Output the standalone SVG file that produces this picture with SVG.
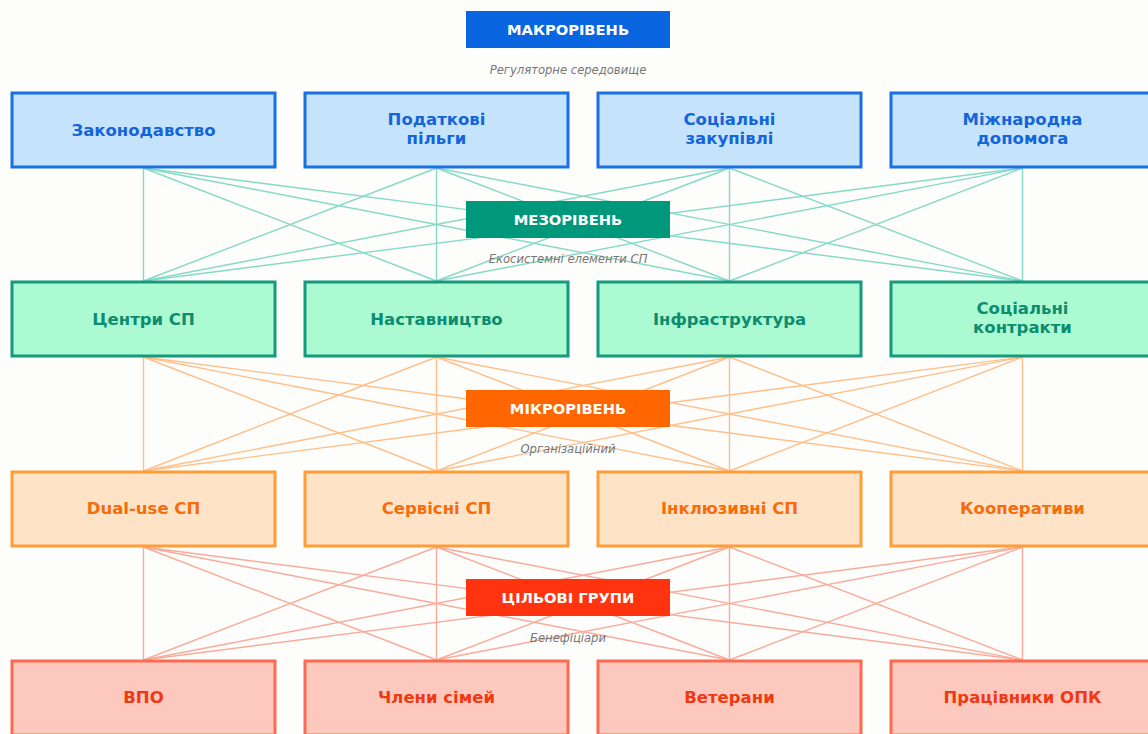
<svg xmlns="http://www.w3.org/2000/svg" width="1148" height="734" viewBox="0 0 1148 734">
<style>
text{font-family:"DejaVu Sans","Liberation Sans",sans-serif;text-anchor:middle}
.n{font-weight:bold;font-size:16.5px}
.b{font-weight:bold;font-size:14.7px;fill:#fff}
.s{font-style:italic;font-size:11.6px;fill:#777}
.c1 line{stroke:#86d9c6;stroke-width:1.4}
.c2 line{stroke:#ffbf8a;stroke-width:1.4}
.c3 line{stroke:#f9ab9b;stroke-width:1.4}
.r1 rect{fill:#c6e3fc;stroke:#1a6fe3;stroke-width:3}
.r1 text{fill:#1465da}
.r2 rect{fill:#abfad2;stroke:#16997c;stroke-width:3}
.r2 text{fill:#0d8c6f}
.r3 rect{fill:#ffe3c6;stroke:#ff9d38;stroke-width:3}
.r3 text{fill:#f56c0e}
.r4 rect{fill:#fdc9bf;stroke:#fa6b52;stroke-width:3}
.r4 text{fill:#f03812}
</style>
<rect width="1148" height="734" fill="#fdfdfb"/>
<g id="connectors">
<g class="c1">
<line x1="143.5" y1="168" x2="143.5" y2="281"/><line x1="143.5" y1="168" x2="436.5" y2="281"/><line x1="143.5" y1="168" x2="729.5" y2="281"/><line x1="143.5" y1="168" x2="1022.5" y2="281"/>
<line x1="436.5" y1="168" x2="143.5" y2="281"/><line x1="436.5" y1="168" x2="436.5" y2="281"/><line x1="436.5" y1="168" x2="729.5" y2="281"/><line x1="436.5" y1="168" x2="1022.5" y2="281"/>
<line x1="729.5" y1="168" x2="143.5" y2="281"/><line x1="729.5" y1="168" x2="436.5" y2="281"/><line x1="729.5" y1="168" x2="729.5" y2="281"/><line x1="729.5" y1="168" x2="1022.5" y2="281"/>
<line x1="1022.5" y1="168" x2="143.5" y2="281"/><line x1="1022.5" y1="168" x2="436.5" y2="281"/><line x1="1022.5" y1="168" x2="729.5" y2="281"/><line x1="1022.5" y1="168" x2="1022.5" y2="281"/>
</g>
<g class="c2">
<line x1="143.5" y1="357" x2="143.5" y2="471"/><line x1="143.5" y1="357" x2="436.5" y2="471"/><line x1="143.5" y1="357" x2="729.5" y2="471"/><line x1="143.5" y1="357" x2="1022.5" y2="471"/>
<line x1="436.5" y1="357" x2="143.5" y2="471"/><line x1="436.5" y1="357" x2="436.5" y2="471"/><line x1="436.5" y1="357" x2="729.5" y2="471"/><line x1="436.5" y1="357" x2="1022.5" y2="471"/>
<line x1="729.5" y1="357" x2="143.5" y2="471"/><line x1="729.5" y1="357" x2="436.5" y2="471"/><line x1="729.5" y1="357" x2="729.5" y2="471"/><line x1="729.5" y1="357" x2="1022.5" y2="471"/>
<line x1="1022.5" y1="357" x2="143.5" y2="471"/><line x1="1022.5" y1="357" x2="436.5" y2="471"/><line x1="1022.5" y1="357" x2="729.5" y2="471"/><line x1="1022.5" y1="357" x2="1022.5" y2="471"/>
</g>
<g class="c3">
<line x1="143.5" y1="547" x2="143.5" y2="660"/><line x1="143.5" y1="547" x2="436.5" y2="660"/><line x1="143.5" y1="547" x2="729.5" y2="660"/><line x1="143.5" y1="547" x2="1022.5" y2="660"/>
<line x1="436.5" y1="547" x2="143.5" y2="660"/><line x1="436.5" y1="547" x2="436.5" y2="660"/><line x1="436.5" y1="547" x2="729.5" y2="660"/><line x1="436.5" y1="547" x2="1022.5" y2="660"/>
<line x1="729.5" y1="547" x2="143.5" y2="660"/><line x1="729.5" y1="547" x2="436.5" y2="660"/><line x1="729.5" y1="547" x2="729.5" y2="660"/><line x1="729.5" y1="547" x2="1022.5" y2="660"/>
<line x1="1022.5" y1="547" x2="143.5" y2="660"/><line x1="1022.5" y1="547" x2="436.5" y2="660"/><line x1="1022.5" y1="547" x2="729.5" y2="660"/><line x1="1022.5" y1="547" x2="1022.5" y2="660"/>
</g>
</g>
<g id="level-macro"><rect x="466" y="11" width="204" height="37" fill="#0a66e0"/><text class="b" x="568" y="34.5">МАКРОРІВЕНЬ</text><text class="s" x="568" y="74">Регуляторне середовище</text></g>
<g id="level-meso"><rect x="466" y="201" width="204" height="37" fill="#00987a"/><text class="b" x="568" y="224.5">МЕЗОРІВЕНЬ</text><text class="s" x="568" y="263">Екосистемні елементи СП</text></g>
<g id="level-micro"><rect x="466" y="390" width="204" height="37" fill="#ff6600"/><text class="b" x="568" y="413.5">МІКРОРІВЕНЬ</text><text class="s" x="568" y="453">Організаційний</text></g>
<g id="level-target"><rect x="466" y="579" width="204" height="37" fill="#ff330e"/><text class="b" x="568" y="602.5">ЦІЛЬОВІ ГРУПИ</text><text class="s" x="568" y="642">Бенефіціари</text></g>
<g class="r1">
<g id="n-law"><rect x="12" y="93" width="263" height="74"/><text class="n" x="143.5" y="135.5">Законодавство</text></g>
<g id="n-tax"><rect x="305" y="93" width="263" height="74"/><text class="n" x="436.5" y="125">Податкові</text><text class="n" x="436.5" y="144">пільги</text></g>
<g id="n-proc"><rect x="598" y="93" width="263" height="74"/><text class="n" x="729.5" y="125">Соціальні</text><text class="n" x="729.5" y="144">закупівлі</text></g>
<g id="n-intl"><rect x="891" y="93" width="263" height="74"/><text class="n" x="1022.5" y="125">Міжнародна</text><text class="n" x="1022.5" y="144">допомога</text></g>
</g>
<g class="r2">
<g id="n-centers"><rect x="12" y="282" width="263" height="74"/><text class="n" x="143.5" y="324.5">Центри СП</text></g>
<g id="n-mentor"><rect x="305" y="282" width="263" height="74"/><text class="n" x="436.5" y="324.5">Наставництво</text></g>
<g id="n-infra"><rect x="598" y="282" width="263" height="74"/><text class="n" x="729.5" y="324.5">Інфраструктура</text></g>
<g id="n-contracts"><rect x="891" y="282" width="263" height="74"/><text class="n" x="1022.5" y="314">Соціальні</text><text class="n" x="1022.5" y="333">контракти</text></g>
</g>
<g class="r3">
<g id="n-dual"><rect x="12" y="472" width="263" height="74"/><text class="n" x="143.5" y="513.5">Dual-use СП</text></g>
<g id="n-service"><rect x="305" y="472" width="263" height="74"/><text class="n" x="436.5" y="513.5">Сервісні СП</text></g>
<g id="n-incl"><rect x="598" y="472" width="263" height="74"/><text class="n" x="729.5" y="513.5">Інклюзивні СП</text></g>
<g id="n-coop"><rect x="891" y="472" width="263" height="74"/><text class="n" x="1022.5" y="513.5">Кооперативи</text></g>
</g>
<g class="r4">
<g id="n-vpo"><rect x="12" y="661" width="263" height="74"/><text class="n" x="143.5" y="702.5">ВПО</text></g>
<g id="n-family"><rect x="305" y="661" width="263" height="74"/><text class="n" x="436.5" y="702.5">Члени сімей</text></g>
<g id="n-vets"><rect x="598" y="661" width="263" height="74"/><text class="n" x="729.5" y="702.5">Ветерани</text></g>
<g id="n-opk"><rect x="891" y="661" width="263" height="74"/><text class="n" x="1022.5" y="702.5">Працівники ОПК</text></g>
</g>
</svg>
